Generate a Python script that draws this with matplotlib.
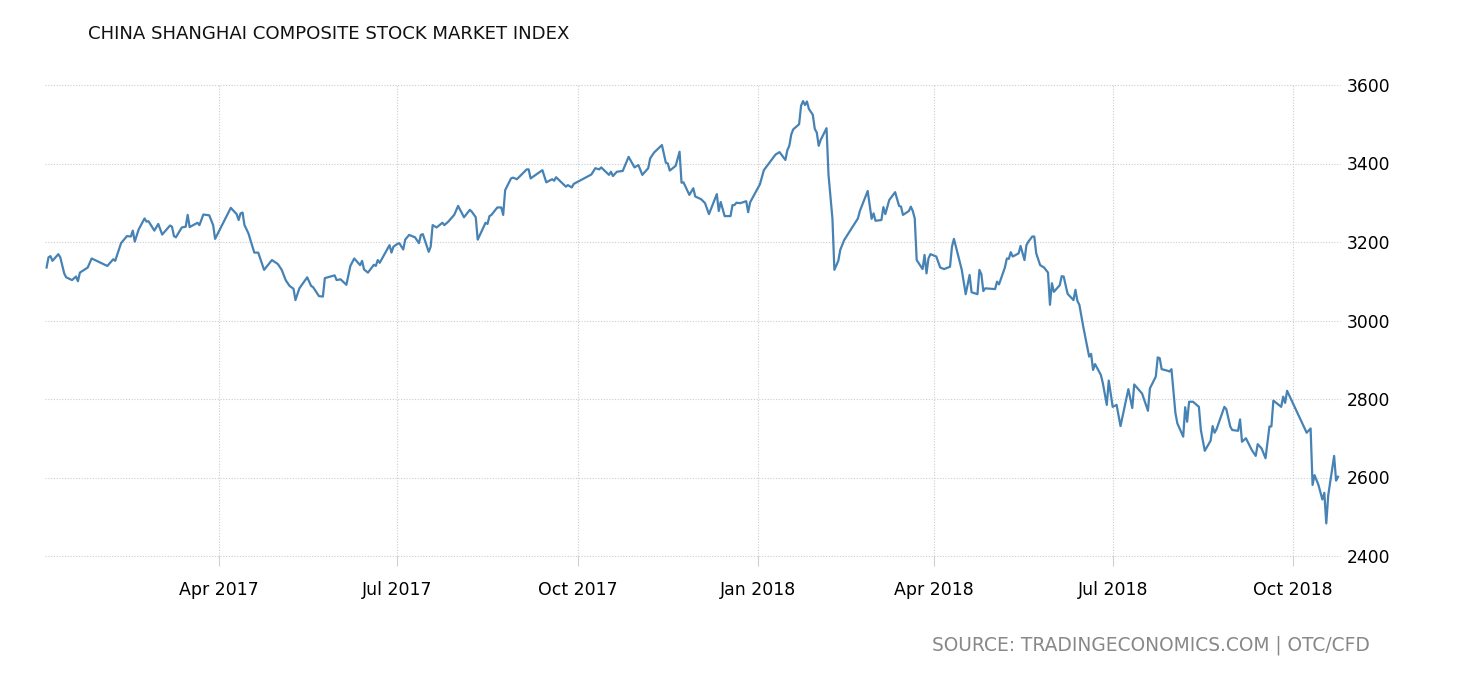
import numpy as np
import pandas as pd
import matplotlib
matplotlib.use('Agg')
import matplotlib.pyplot as plt
import matplotlib.dates as mdates

# Shanghai Composite close
# day = days since 2017-01-01
days = [
    2, 3, 4, 5, 8, 9, 11, 12, 15, 17, 18, 19, 23, 25, 33, 36, 37, 40, 43, 45,
    46, 47, 49, 52, 53, 54, 57, 59, 61, 65, 66, 67, 68, 71, 73, 74, 75, 79, 80, 82,
    85, 87, 88, 96, 99, 100, 101, 102, 103, 105, 108, 110, 113, 117, 120, 122, 124, 126, 128, 129,
    131, 135, 137, 138, 141, 143, 144, 149, 150, 152, 155, 157, 159, 162, 163, 164, 166, 169, 170, 171,
    172, 177, 178, 179, 181, 182, 184, 185, 187, 190, 192, 193, 194, 197, 198, 199, 201, 204, 205, 207,
    210, 212, 215, 218, 219, 221, 222, 226, 227, 228, 229, 232, 234, 235, 236, 239, 240, 242, 247, 248,
    249, 255, 257, 260, 261, 262, 267, 268, 270, 271, 280, 282, 284, 285, 289, 290, 291, 293, 296, 299,
    302, 304, 306, 309, 310, 312, 316, 318, 319, 320, 323, 325, 326, 327, 330, 332, 333, 336, 338, 340,
    344, 345, 346, 348, 351, 352, 353, 354, 356, 359, 360, 361, 366, 368, 371, 374, 376, 379, 380, 381,
    382, 383, 386, 387, 388, 389, 390, 391, 393, 394, 395, 396, 397, 399, 400, 401, 403, 404, 406, 407,
    409, 416, 417, 421, 423, 424, 425, 428, 429, 430, 432, 435, 437, 438, 439, 442, 443, 444, 445, 446,
    449, 450, 451, 452, 453, 456, 458, 460, 463, 464, 465, 467, 469, 471, 473, 474, 477, 478, 479, 480,
    481, 486, 487, 488, 491, 492, 493, 494, 495, 498, 499, 501, 502, 503, 505, 506, 507, 509, 511, 513,
    514, 515, 516, 519, 520, 521, 523, 526, 527, 528, 529, 531, 534, 535, 536, 537, 540, 541, 543, 544,
    546, 548, 550, 554, 556, 557, 561, 564, 565, 568, 569, 570, 571, 574, 575, 576, 578, 579, 582, 583,
    584, 585, 587, 590, 591, 593, 596, 597, 598, 599, 603, 604, 606, 607, 610, 611, 612, 614, 617, 619,
    620, 622, 624, 626, 627, 628, 632, 633, 634, 635, 645, 647, 648, 649, 651, 653, 654, 655, 656, 659,
    660, 661,
]
close = [
    3135, 3161, 3164, 3152, 3169, 3161, 3120, 3110, 3103, 3112, 3100, 3122, 3135, 3158, 3139, 3156, 3152, 3197, 3215, 3214,
    3229, 3201, 3232, 3260, 3252, 3253, 3229, 3246, 3219, 3242, 3239, 3215, 3212, 3237, 3239, 3269, 3238, 3249, 3243, 3270,
    3268, 3243, 3208, 3287, 3271, 3256, 3273, 3275, 3243, 3222, 3173, 3173, 3129, 3154, 3144, 3129, 3103, 3088, 3081, 3052,
    3082, 3110, 3088, 3085, 3062, 3061, 3108, 3115, 3103, 3105, 3091, 3139, 3158, 3141, 3152, 3130, 3122, 3142, 3139, 3154,
    3147, 3192, 3173, 3188, 3195, 3197, 3181, 3206, 3218, 3212, 3197, 3218, 3220, 3175, 3188, 3243, 3237, 3249, 3243, 3252,
    3269, 3292, 3263, 3282, 3277, 3263, 3206, 3249, 3246, 3266, 3269, 3288, 3288, 3269, 3332, 3362, 3364, 3360, 3385, 3385,
    3362, 3383, 3352, 3360, 3356, 3365, 3341, 3345, 3339, 3348, 3372, 3388, 3385, 3390, 3371, 3379, 3368, 3379, 3381, 3417,
    3390, 3396, 3371, 3388, 3413, 3428, 3447, 3402, 3400, 3382, 3394, 3430, 3351, 3352, 3320, 3337, 3316, 3309, 3299, 3271,
    3322, 3279, 3302, 3266, 3266, 3294, 3294, 3300, 3299, 3304, 3276, 3301, 3347, 3383, 3403, 3423, 3429, 3409, 3434, 3445,
    3474, 3487, 3500, 3547, 3559, 3549, 3558, 3539, 3524, 3488, 3479, 3445, 3460, 3480, 3490, 3371, 3260, 3129, 3152, 3180,
    3205, 3260, 3279, 3330, 3259, 3273, 3254, 3256, 3289, 3271, 3307, 3327, 3292, 3290, 3269, 3279, 3290, 3279, 3260, 3154,
    3131, 3167, 3120, 3158, 3169, 3163, 3135, 3131, 3137, 3188, 3208, 3169, 3129, 3067, 3116, 3072, 3067, 3129, 3118, 3075,
    3082, 3080, 3099, 3092, 3135, 3158, 3157, 3174, 3163, 3171, 3190, 3154, 3192, 3201, 3214, 3214, 3171, 3141, 3135, 3122,
    3040, 3095, 3073, 3090, 3113, 3112, 3068, 3052, 3078, 3050, 3040, 2984, 2908, 2915, 2874, 2889, 2861, 2840, 2785, 2847,
    2780, 2785, 2731, 2825, 2777, 2837, 2814, 2770, 2827, 2857, 2906, 2904, 2876, 2872, 2870, 2876, 2765, 2738, 2704, 2779,
    2742, 2793, 2793, 2780, 2721, 2668, 2694, 2731, 2714, 2723, 2780, 2774, 2730, 2721, 2719, 2748, 2691, 2700, 2670, 2655,
    2685, 2674, 2649, 2730, 2730, 2796, 2780, 2806, 2790, 2821, 2714, 2725, 2581, 2606, 2581, 2544, 2561, 2483, 2555, 2655,
    2592, 2602,
]

y_ticks = [2400, 2600, 2800, 3000, 3200, 3400, 3600]
x_ticks = ['2017-04-01', '2017-07-01', '2017-10-01', '2018-01-01', '2018-04-01', '2018-07-01', '2018-10-01']

dates = pd.Timestamp('2017-01-01') + pd.to_timedelta(days, unit='D')

fig = plt.figure(figsize=(14.6, 6.8), dpi=100)
ax = fig.add_axes([45 / 1460, 1 - 556 / 680, 1295 / 1460, 471 / 680])

ax.plot(dates, close, color='#4682b4', lw=1.6)

ax.set_ylim(2400, 3600)
ax.set_xlim(pd.Timestamp('2017-01-01') + pd.Timedelta(days=1.2),
            pd.Timestamp('2017-01-01') + pd.Timedelta(days=662))

ax.set_yticks(y_ticks)
ax.set_xticks(pd.to_datetime(x_ticks))
ax.xaxis.set_major_formatter(mdates.DateFormatter('%b %Y'))
ax.yaxis.tick_right()

ax.grid(True, color='#cccccc', linestyle=(0, (1, 1.5)), lw=0.8)
for gl in ax.get_xgridlines() + ax.get_ygridlines():
    gl.set_clip_on(False)
for s in ax.spines.values():
    s.set_visible(False)

ax.tick_params(axis='x', length=7, width=0.8, color='#d0d0d0', pad=11, labelsize=12.5)
ax.tick_params(axis='y', length=0, pad=5, labelsize=12.3)

fig.text(88 / 1460, 1 - 34 / 680, 'CHINA SHANGHAI COMPOSITE STOCK MARKET INDEX',
         fontsize=13.1, va='center', ha='left', color='#111111')
fig.text(1370 / 1460, 1 - 645 / 680, 'SOURCE: TRADINGECONOMICS.COM | OTC/CFD',
         fontsize=13.4, va='center', ha='right', color='#888888')

fig.savefig('out.png', dpi=100)
